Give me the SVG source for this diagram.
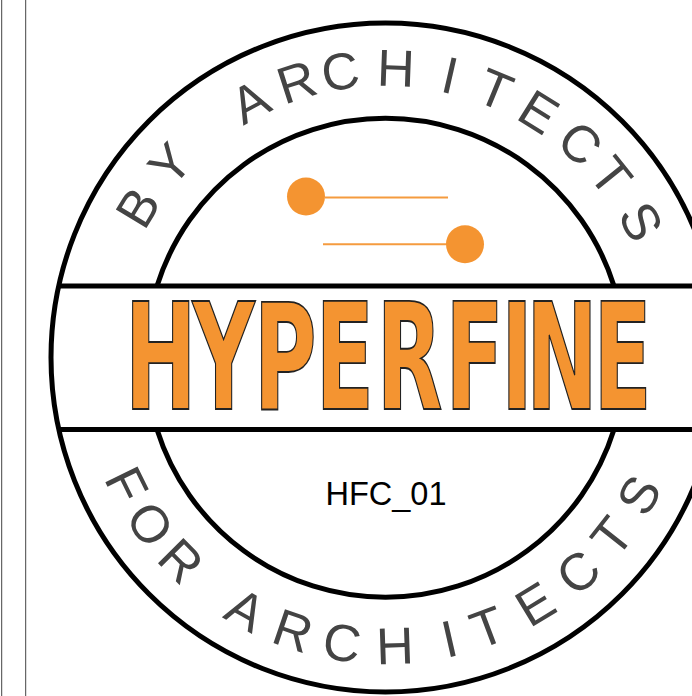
<svg xmlns="http://www.w3.org/2000/svg" width="692" height="696" viewBox="0 0 692 696">
<style>
.ring{fill:none;stroke:#000;stroke-width:5}
.rule{stroke:#444;stroke-width:1}
.arc{font-family:"Liberation Sans",Arial,sans-serif;font-size:52px;fill:#444;font-kerning:none}
.dot{fill:#f49431}
.bar{stroke:#f59b3f;stroke-width:2}
</style>
<defs>
<path id="topArc" d="M114 357.5A271.5 271.5 0 0 1 657 357.5"/>
<path id="bottomArc" d="M79 357.5A306.5 306.5 0 0 0 692 357.5"/>
</defs>
<rect width="692" height="696" fill="#fff"/>
<line class="rule" x1="1.7" y1="0" x2="1.7" y2="696"/>
<line class="rule" x1="25.7" y1="0" x2="25.7" y2="696"/>
<g id="rings">
<circle class="ring" cx="385.5" cy="357.5" r="334.5"/>
<path class="ring" d="M157 286A239.5 239.5 0 0 1 614 286M157 429.5A239.5 239.5 0 0 0 614 429.5"/>
<path class="ring" d="M57 286H692M57 429.5H692"/>
</g>
<g id="motif">
<line class="bar" x1="325" y1="197.5" x2="448" y2="197.5"/>
<circle class="dot" cx="306" cy="196.5" r="19"/>
<line class="bar" x1="323" y1="244.3" x2="446" y2="244.3"/>
<circle class="dot" cx="465" cy="244.3" r="19"/>
</g>
<text class="arc"><textPath href="#topArc" startOffset="130.5"><tspan dx="0 16 0 46.5 11.3 4.5 15 25.1 21.4 12.7 12.8 7.4 17.9">BY ARCHITECTS</tspan></textPath></text>
<text class="arc"><textPath href="#bottomArc" startOffset="124.3"><tspan dx="0 12.5 11.9 0 36 18.9 15.9 19.1 32.3 19.1 23.4 20.6 17.7 19.1">FOR ARCHITECTS</tspan></textPath></text>
<text transform="translate(0 409) scale(.58 1)" y="0" x="215 331.8 437.4 543.8 649 767.6 864 907 1023" font-family="'DejaVu Sans',sans-serif" font-weight="700" font-size="148" fill="#f49431" stroke="#222" stroke-width="1.5" vector-effect="non-scaling-stroke">HYPERFINE</text>
<text x="386" y="505" text-anchor="middle" font-family="'Liberation Sans',Arial,sans-serif" font-size="32.5" fill="#000">HFC_01</text>
</svg>
